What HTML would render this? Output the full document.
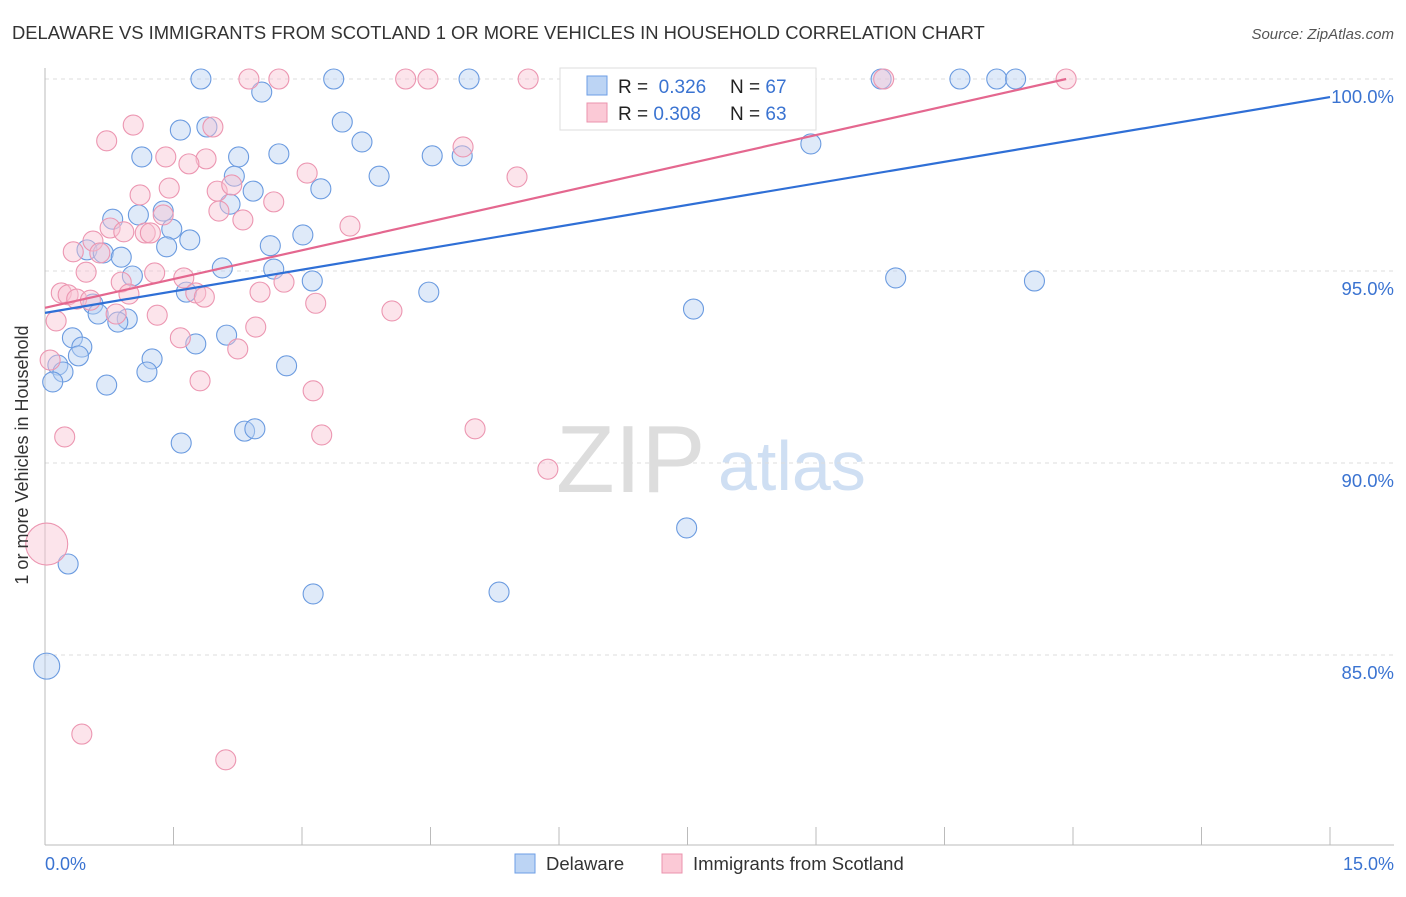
<!DOCTYPE html>
<html><head><meta charset="utf-8"><style>
body{margin:0;background:#fff;font-family:"Liberation Sans",sans-serif;}
svg text{font-family:"Liberation Sans",sans-serif;}
</style></head><body>
<svg id="chart" width="1406" height="892">
<text x="12" y="39" font-size="18.4" fill="#333">DELAWARE VS IMMIGRANTS FROM SCOTLAND 1 OR MORE VEHICLES IN HOUSEHOLD CORRELATION CHART</text>
<text x="1394" y="39" font-size="15" fill="#555" font-style="italic" text-anchor="end">Source: ZipAtlas.com</text>
<text x="556" y="492" font-size="96" fill="#ddd" font-family="Liberation Serif">ZIP</text>
<text x="718" y="490" font-size="70" fill="#cfdff3">atlas</text>
<g id="grid"></g><g id="axes"></g><g id="pts"></g><g id="lines"></g>
<text transform="translate(28,455) rotate(-90)" font-size="18" fill="#333" text-anchor="middle">1 or more Vehicles in Household</text>
<text x="45" y="870" font-size="18" fill="#3a73d1">0.0%</text>
<text x="1394" y="870" font-size="18" fill="#3a73d1" text-anchor="end">15.0%</text>
<g>
<rect x="560" y="68" width="256" height="62" fill="#fff" stroke="#ddd"/>
<rect x="587" y="76" width="20" height="19" fill="#bcd4f4" stroke="#6d9ee6"/>
<rect x="587" y="103" width="20" height="19" fill="#fbc9d6" stroke="#eb93ad"/>
<text x="618" y="93" font-size="19" fill="#222">R = <tspan fill="#3a73d1">&#160;0.326</tspan><tspan x="730">N = </tspan><tspan fill="#3a73d1">67</tspan></text>
<text x="618" y="120" font-size="19" fill="#222">R = <tspan fill="#3a73d1">0.308</tspan><tspan x="730">N = </tspan><tspan fill="#3a73d1">63</tspan></text>
</g>
<g>
<rect x="515" y="854" width="20" height="19" fill="#bcd4f4" stroke="#6d9ee6"/>
<text x="546" y="870" font-size="18.5" fill="#333">Delaware</text>
<rect x="662" y="854" width="20" height="19" fill="#fbc9d6" stroke="#eb93ad"/>
<text x="693" y="870" font-size="18.5" fill="#333">Immigrants from Scotland</text>
</g>
</svg>
<script>
const yTicks=[100,95,90,85];
const xTicks=[0,1.5,3,4.5,6,7.5,9,10.5,12,13.5,15];
const blueX=[1.82,3.37,4.95,9.76,10.68,11.11,11.33,2.53,1.58,1.89,3.47,3.7,1.13,2.26,2.73,4.52,4.87,8.94,2.21,3.9,2.43,3.22,0.79,1.09,1.38,2.16,1.48,1.69,1.42,3.01,2.63,0.49,0.68,0.89,2.07,2.67,3.12,1.02,9.93,11.55,1.65,4.48,0.56,0.62,0.96,0.85,7.57,0.32,0.43,2.12,1.76,1.25,0.39,0.15,0.21,1.19,2.82,0.09,0.72,1.59,2.33,2.45,7.49,0.27,3.13,5.3,0.02];
const blueY=[100,100,100,100,100,100,100,99.66,98.67,98.75,98.88,98.36,97.97,97.97,98.05,98.0,98.0,98.31,97.47,97.47,97.08,97.14,96.35,96.46,96.56,96.74,96.09,95.81,95.63,95.94,95.66,95.55,95.47,95.36,95.08,95.05,94.74,94.87,94.82,94.74,94.45,94.45,94.14,93.88,93.75,93.67,94.01,93.26,93.02,93.33,93.1,92.71,92.79,92.55,92.37,92.37,92.53,92.11,92.03,90.52,90.83,90.89,88.31,87.37,86.59,86.64,84.71];
const pinkX=[2.38,2.73,4.21,4.47,5.64,9.79,11.92,1.03,1.96,0.72,4.88,1.41,1.88,1.68,3.06,5.51,1.11,1.45,2.01,2.18,2.67,1.38,2.03,2.31,3.56,0.76,0.92,1.17,1.23,0.56,0.33,0.64,1.28,0.48,1.62,0.89,2.79,0.19,0.27,0.37,0.53,0.98,1.76,1.86,2.51,3.16,4.05,1.31,0.83,0.13,1.58,2.46,2.25,0.06,1.81,3.13,0.23,3.23,5.02,5.87,0.02,0.43,2.11];
const pinkY=[100,100,100,100,100,100,100,98.8,98.75,98.39,98.23,97.97,97.92,97.79,97.55,97.45,96.98,97.16,97.08,97.24,96.8,96.46,96.56,96.33,96.17,96.12,96.02,95.99,95.99,95.78,95.5,95.47,94.95,94.97,94.82,94.71,94.71,94.43,94.38,94.27,94.24,94.4,94.43,94.32,94.45,94.16,93.96,93.85,93.88,93.7,93.26,93.54,92.97,92.68,92.14,91.88,90.68,90.73,90.89,89.84,87.89,82.94,82.27];
const X=v=>45+v/15*1285, Y=v=>79+(100-v)/5*192;
const NS="http://www.w3.org/2000/svg";
function mk(t,a,p){const e=document.createElementNS(NS,t);for(const k in a)e.setAttribute(k,a[k]);document.getElementById(p).appendChild(e);return e;}
yTicks.forEach(t=>{
 const l=mk('line',{x1:45,x2:1394,y1:Y(t),y2:Y(t),stroke:'#ddd','stroke-dasharray':'4,4'},'grid');
 
 
 const tx=mk('text',{x:1394,y:Y(t)+24,'font-size':18.5,fill:'#3a73d1','text-anchor':'end'},'grid');
 tx.textContent=t.toFixed(1)+'%';
 
 
});
const ax=mk('line',{x1:45,x2:45,y1:68,y2:845,stroke:'#bbb'},'axes');


const bx=mk('line',{x1:45,x2:1394,y1:845,y2:845,stroke:'#bbb'},'axes');


xTicks.forEach(t=>{
 const l=mk('line',{x1:X(t),x2:X(t),y1:827,y2:845,stroke:'#bbb'},'axes');
 
 
});
function pts(xs,ys,fill,stroke,name,big){
 xs.forEach((x,i)=>{
  let r=10; if(i===xs.length-1&&big)r=big;
  const c=mk('circle',{cx:X(x),cy:Y(ys[i]),r:r,fill:fill,'fill-opacity':0.45,stroke:stroke,'stroke-width':1.1},'pts');
  
  
 });
}
pts(blueX,blueY,'#b7d0f2','#6b9be0','delaware-point',13);
pts(pinkX.slice(0,-3).concat([pinkX[61],pinkX[62]]),pinkY.slice(0,-3).concat([pinkY[61],pinkY[62]]),'#f9c3d2','#ec96b1','scotland-point',0);
const bg=mk('circle',{cx:X(pinkX[60]),cy:Y(pinkY[60]),r:21,fill:'#f9c3d2','fill-opacity':0.45,stroke:'#ec96b1','stroke-width':1.1},'pts');


const bl=mk('line',{x1:X(0),y1:Y(93.91),x2:X(15),y2:Y(99.53),stroke:'#2f6fd6','stroke-width':2.2},'lines');


const pl=mk('line',{x1:X(0),y1:Y(94.04),x2:X(11.92),y2:Y(100),stroke:'#e4678f','stroke-width':2.2},'lines');


</script>
</body></html>
